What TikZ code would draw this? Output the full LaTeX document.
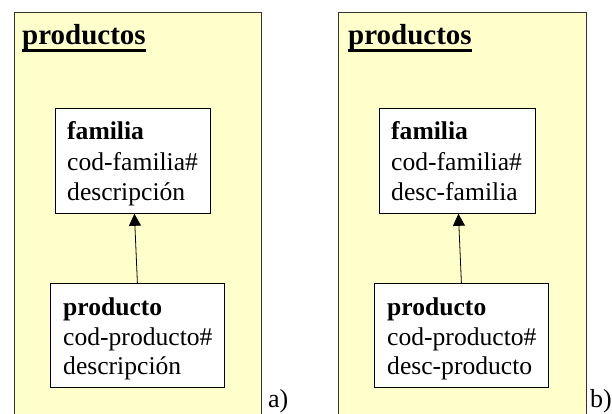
\documentclass[tikz,border=0pt]{standalone}
\usepackage{fontspec}
\setmainfont{Liberation Serif}
\usetikzlibrary{arrows.meta}

\definecolor{panelfill}{HTML}{FFFFCC}
\definecolor{panelline}{HTML}{333333}

\tikzset{
  panel/.style={draw=panelline, line width=0.8pt, fill=panelfill},
  entity/.style={draw=black, line width=0.8pt, fill=white, rectangle,
    anchor=north west, inner sep=0pt},
  field/.style={anchor=base west, inner sep=0pt,
    font=\fontsize{25.6}{30}\selectfont},
  paneltitle/.style={anchor=base west, inner sep=0pt,
    font=\fontsize{29}{30}\selectfont\bfseries},
  titlerule/.style={line width=2.4pt},
  link/.style={line width=0.8pt, -{Triangle[width=12pt,length=12pt]}},
  caption/.style={anchor=base west, inner sep=0pt,
    font=\fontsize{26}{30}\selectfont}
}

\begin{document}
\begin{tikzpicture}[x=1pt, y=-1pt]
  \clip (0,0) rectangle (612,414);

  % ---- panel a) ----
  \path[panel] (14,12) rectangle (261,430);
  \node[paneltitle] (ta) at (22,45) {productos};
  \draw[titlerule] ([yshift=-5.5pt]ta.base west) -- ([yshift=-5.5pt]ta.base east);

  \node[entity, minimum width=155pt, minimum height=105pt] (fa) at (55,108) {};
  \node[field] (fa1) at ([xshift=12pt,yshift=-32pt]fa.north west) {\textbf{familia}};
  \node[field] (fa2) at ([xshift=12pt,yshift=-62pt]fa.north west) {cod-familia\#};
  \node[field] (fa3) at ([xshift=12pt,yshift=-92pt]fa.north west) {descripción};

  \node[entity, minimum width=174pt, minimum height=104pt] (pa) at (50,283) {};
  \node[field] (pa1) at ([xshift=13pt,yshift=-32pt]pa.north west) {\textbf{producto}};
  \node[field] (pa2) at ([xshift=13pt,yshift=-62pt]pa.north west) {cod-producto\#};
  \node[field] (pa3) at ([xshift=13pt,yshift=-91pt]pa.north west) {descripción};

  \draw[link] (pa.north) -- ([xshift=1.5pt]fa.south);

  \node[caption] (ca) at (268,407) {a)};

  % ---- panel b) ----
  \path[panel] (338,12) rectangle (586,430);
  \node[paneltitle] (tb) at (348,45) {productos};
  \draw[titlerule] ([yshift=-5.5pt]tb.base west) -- ([yshift=-5.5pt]tb.base east);

  \node[entity, minimum width=156pt, minimum height=105pt] (fb) at (379,108) {};
  \node[field] (fb1) at ([xshift=12pt,yshift=-32pt]fb.north west) {\textbf{familia}};
  \node[field] (fb2) at ([xshift=12pt,yshift=-62pt]fb.north west) {cod-familia\#};
  \node[field] (fb3) at ([xshift=12pt,yshift=-92pt]fb.north west) {desc-familia};

  \node[entity, minimum width=174pt, minimum height=104pt] (pb) at (374,283) {};
  \node[field] (pb1) at ([xshift=13pt,yshift=-32pt]pb.north west) {\textbf{producto}};
  \node[field] (pb2) at ([xshift=13pt,yshift=-62pt]pb.north west) {cod-producto\#};
  \node[field] (pb3) at ([xshift=13pt,yshift=-91pt]pb.north west) {desc-producto};

  \draw[link] (pb.north) -- ([xshift=1pt]fb.south);

  \node[caption] (cb) at (590,407) {b)};
\end{tikzpicture}
\end{document}
